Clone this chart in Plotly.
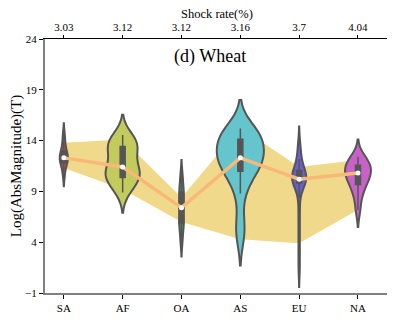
import plotly.graph_objects as go

regions = ["SA", "AF", "OA", "AS", "EU", "NA"]
shock_rate = ["3.03", "3.12", "3.12", "3.16", "3.7", "4.04"]
colors = ["#d24b4f", "#c3cb5c", "#43b451", "#65c5cc", "#6a5fd1", "#c862c9"]

# samples
sa = [10.5, 11.2, 11.6, 11.8, 12.0, 12.2, 12.3, 12.4, 12.6, 12.9, 13.0, 13.5, 14.0, 14.7]
af = [8.9, 9.6, 10.1, 10.3, 10.6, 10.9, 11.2, 11.4, 12.2, 12.8, 13.2, 13.5, 13.8, 14.2, 14.55]
oa = [4.0, 5.0, 5.7, 6.0, 6.5, 7.2, 7.6, 8.2, 8.8, 9.1, 9.8, 10.7]
as_ = [4.5, 6.0, 8.8, 10.0, 10.9, 11.2, 11.6, 11.9, 12.1, 12.3, 12.7, 13.1, 13.5,
       13.9, 14.2, 14.5, 14.8, 15.0, 15.2]
eu = [1.4, 3.2, 5.0, 6.8, 8.4, 9.8, 9.9, 10.0, 10.0, 10.1, 10.1, 10.2, 10.2, 10.3,
      10.5, 10.7, 10.9, 11.1, 11.3, 11.6, 12.2, 13.0, 13.6]
na = [7.2, 8.6, 9.3, 9.8, 10.2, 10.5, 10.8, 11.0, 11.2, 11.5, 11.8, 12.1, 12.4]
samples = [sa, af, oa, as_, eu, na]

medians = [12.3, 11.4, 7.4, 12.3, 10.2, 10.8]
band_upper = [13.8, 14.1, 8.4, 15.3, 11.4, 12.1]
band_lower = [11.3, 9.2, 6.0, 4.3, 3.9, 7.2]

bws = [0.5, 1.0, 0.7, 1.4, 0.9, 0.85]
widths = [0.14, 0.58, 0.08, 0.8, 0.24, 0.44]

serif = "Liberation Serif, Times New Roman, DejaVu Serif, serif"
pos = list(range(len(regions)))
xr = [-0.32, 5.51]

fig = go.Figure()

# band on the base axes (drawn underneath)
fig.add_trace(go.Scatter(x=regions, y=band_lower, mode="lines", line=dict(width=0),
                         showlegend=False, hoverinfo="skip"))
fig.add_trace(go.Scatter(x=regions, y=band_upper, mode="lines", line=dict(width=0),
                         fill="tonexty", fillcolor="#f1d98b", showlegend=False,
                         hoverinfo="skip"))

# violins + median line on the overlaid axes (drawn on top)
for p, vals, c, bw, w in zip(pos, samples, colors, bws, widths):
    fig.add_trace(go.Violin(
        x=[p] * len(vals), y=vals, xaxis="x2", yaxis="y2", fillcolor=c, opacity=1,
        line=dict(color="#555555", width=2), bandwidth=bw, width=w,
        scalemode="width", spanmode="soft", points="outliers",
        marker=dict(opacity=0, size=1), showlegend=False,
        box=dict(visible=True, width=min(0.085 / w, 0.9), fillcolor="#555555",
                 line=dict(color="#555555", width=1.5)),
        meanline=dict(visible=False)))

fig.add_trace(go.Scatter(x=pos, y=medians, xaxis="x2", yaxis="y2", mode="lines+markers",
                         line=dict(color="#f8b878", width=3.5),
                         marker=dict(color="white", size=5), showlegend=False))

# page is offset 8px by the body margin
fig.update_layout(
    width=387, height=324, margin=dict(l=37, r=7, t=31, b=39),
    plot_bgcolor="white", paper_bgcolor="white", violinmode="overlay",
    font=dict(family=serif, size=11, color="black"),
    xaxis=dict(type="category", range=xr, showline=True, linecolor="#808080",
               linewidth=2, ticks="outside", ticklen=4, tickcolor="black",
               showgrid=False, zeroline=False, automargin=False,
               tickfont=dict(family=serif, size=11)),
    xaxis2=dict(overlaying="x", side="top", type="linear", range=xr,
                tickmode="array", tickvals=pos, ticktext=shock_rate,
                showline=True, linecolor="black", linewidth=1,
                ticks="outside", ticklen=3, tickcolor="black", showgrid=False,
                zeroline=False, automargin=False, tickfont=dict(family=serif, size=11)),
    yaxis=dict(range=[-1, 24], tickvals=[-1, 4, 9, 14, 19, 24], showline=True,
               linecolor="#808080", linewidth=2, mirror=True, ticks="outside",
               ticklen=4, tickcolor="black", showgrid=False, zeroline=False,
               automargin=False, tickfont=dict(family=serif, size=11),
               title=dict(text="Log(AbsMagnitude)(T)", font=dict(family=serif, size=15))),
    yaxis2=dict(overlaying="y", range=[-1, 24], visible=False),
    annotations=[
        dict(text="(d) Wheat", x=0.48, y=0.93, xref="paper", yref="paper",
             yanchor="middle", showarrow=False, font=dict(family=serif, size=18)),
        dict(text="Shock rate(%)", x=0.5, y=1.1, xref="paper", yref="paper",
             yanchor="middle", showarrow=False, font=dict(family=serif, size=12.5)),
    ],
)

fig.write_html("out.html")
